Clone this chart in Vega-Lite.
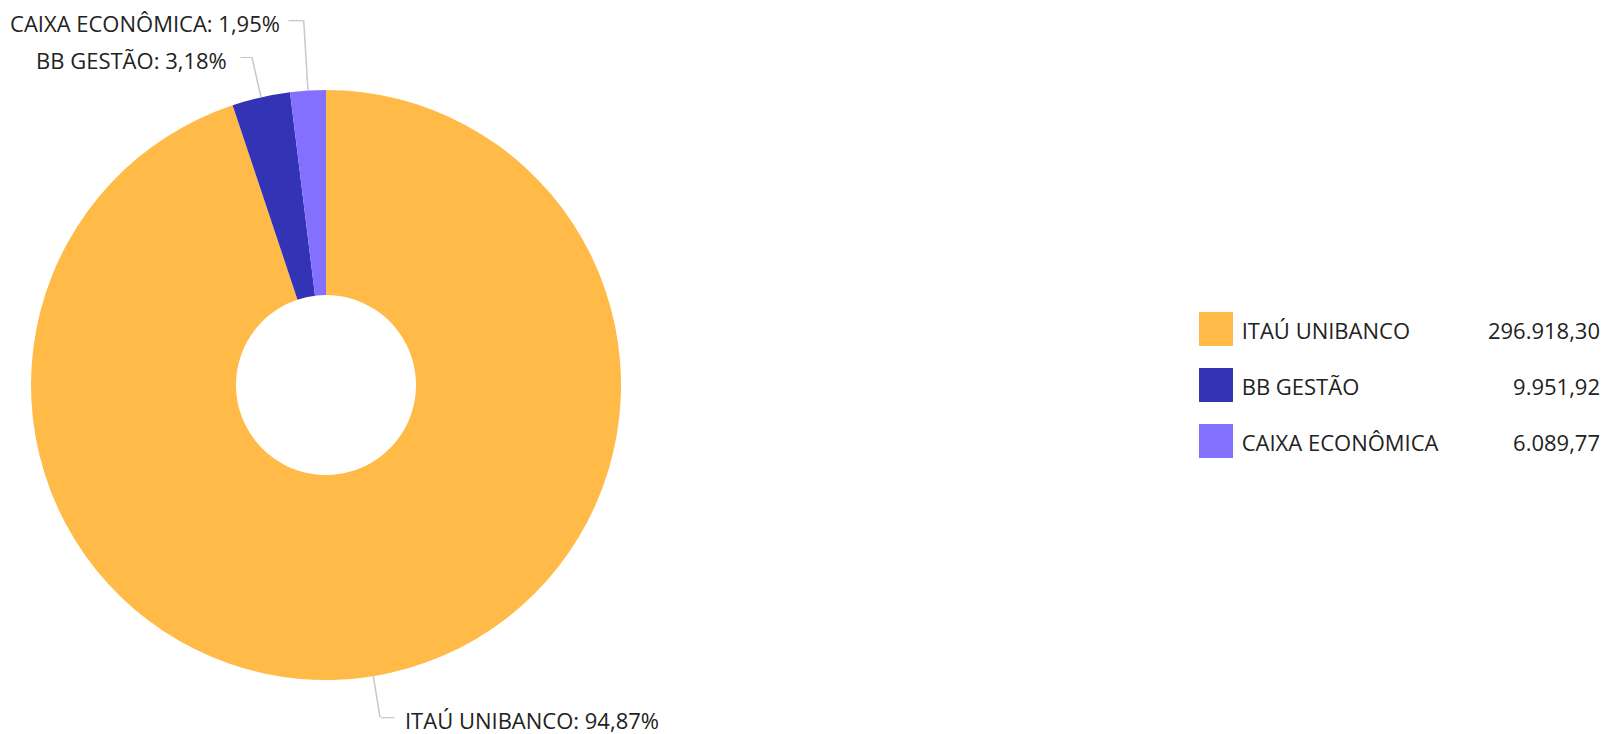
{
  "$schema": "https://vega.github.io/schema/vega-lite/v6.json",
  "background": "white",
  "padding": 0,
  "config": {"view": {"stroke": null}, "text": {"font": "Open Sans"}},
  "data": {
    "values": [
      {"name": "ITAÚ UNIBANCO", "value": 296918.30, "label": "ITAÚ UNIBANCO: 94,87%", "valor": "296.918,30"},
      {"name": "BB GESTÃO", "value": 9951.92, "label": "BB GESTÃO: 3,18%", "valor": "9.951,92"},
      {"name": "CAIXA ECONÔMICA", "value": 6089.77, "label": "CAIXA ECONÔMICA: 1,95%", "valor": "6.089,77"}
    ]
  },
  "bounds": "flush",
  "center": true,
  "spacing": 564,
  "hconcat": [
    {
      "width": 652,
      "height": 770,
      "transform": [{"stack": "value", "groupby": [], "sort": [{"field": "value", "order": "descending"}], "as": ["v0", "v1"]}],
      "resolve": {"scale": {"theta": "independent"}},
      "layer": [
        {
          "layer": [
            {
              "mark": {"type": "arc", "innerRadius": 90, "outerRadius": 295},
              "encoding": {
                "theta": {"field": "v0", "type": "quantitative", "stack": null, "scale": {"zero": true, "nice": false}},
                "theta2": {"field": "v1"},
                "color": {"field": "name", "type": "nominal", "legend": null,
                  "scale": {"domain": ["ITAÚ UNIBANCO", "BB GESTÃO", "CAIXA ECONÔMICA"], "range": ["#FFBA47", "#3333B5", "#8470FF"]}}
              }
            },
            {
              "transform": [{"filter": "datum.name === 'BB GESTÃO'"}],
              "mark": {"type": "arc", "innerRadius": 295, "outerRadius": 336, "padAngle": 3.1416, "filled": false, "stroke": "#c8c8c8", "strokeWidth": 1.5},
              "encoding": {
                "theta": {"field": "v0", "type": "quantitative", "stack": null},
                "theta2": {"field": "v1"}
              }
            },
            {
              "transform": [{"filter": "datum.name === 'CAIXA ECONÔMICA'"}],
              "mark": {"type": "arc", "innerRadius": 295, "outerRadius": 365.5, "padAngle": 3.1416, "filled": false, "stroke": "#c8c8c8", "strokeWidth": 1.5},
              "encoding": {
                "theta": {"field": "v0", "type": "quantitative", "stack": null},
                "theta2": {"field": "v1"}
              }
            },
            {
              "mark": {"type": "text", "radius": 365.5, "align": "right", "baseline": "alphabetic", "dx": -23.7, "dy": 11.5, "fontSize": 22, "font": "Open Sans", "color": "#222222"},
              "encoding": {
                "theta": {"field": "value", "type": "quantitative", "stack": true},
                "detail": {"field": "name", "type": "nominal"},
                "order": {"field": "value", "type": "quantitative", "sort": "descending"},
                "text": {"condition": {"test": "datum.name === 'CAIXA ECONÔMICA'", "field": "label"}, "value": ""}
              }
            },
            {
              "mark": {"type": "text", "radius": 336, "align": "right", "baseline": "alphabetic", "dx": -25.2, "dy": 11.7, "fontSize": 22, "font": "Open Sans", "color": "#222222"},
              "encoding": {
                "theta": {"field": "value", "type": "quantitative", "stack": true},
                "detail": {"field": "name", "type": "nominal"},
                "order": {"field": "value", "type": "quantitative", "sort": "descending"},
                "text": {"condition": {"test": "datum.name === 'BB GESTÃO'", "field": "label"}, "value": ""}
              }
            },
            {
              "mark": {"type": "text", "radius": 336.6, "align": "left", "baseline": "alphabetic", "dx": 25, "dy": 12.1, "fontSize": 22, "font": "Open Sans", "color": "#222222"},
              "encoding": {
                "theta": {"field": "value", "type": "quantitative", "stack": true},
                "detail": {"field": "name", "type": "nominal"},
                "order": {"field": "value", "type": "quantitative", "sort": "descending"},
                "text": {"condition": {"test": "datum.name === 'ITAÚ UNIBANCO'", "field": "label"}, "value": ""}
              }
            },
            {
              "mark": {"type": "text", "radius": 365.5, "align": "right", "baseline": "alphabetic", "dy": 4.85, "fontSize": 16, "font": "DejaVu Sans", "color": "#c8c8c8"},
              "encoding": {
                "theta": {"field": "value", "type": "quantitative", "stack": true},
                "detail": {"field": "name", "type": "nominal"},
                "order": {"field": "value", "type": "quantitative", "sort": "descending"},
                "text": {"condition": {"test": "datum.name === 'CAIXA ECONÔMICA'", "value": "—"}, "value": ""}
              }
            },
            {
              "mark": {"type": "text", "radius": 336, "align": "right", "baseline": "alphabetic", "dy": 3.6, "fontSize": 12, "font": "DejaVu Sans", "color": "#c8c8c8"},
              "encoding": {
                "theta": {"field": "value", "type": "quantitative", "stack": true},
                "detail": {"field": "name", "type": "nominal"},
                "order": {"field": "value", "type": "quantitative", "sort": "descending"},
                "text": {"condition": {"test": "datum.name === 'BB GESTÃO'", "value": "—"}, "value": ""}
              }
            },
            {
              "mark": {"type": "text", "radius": 336.6, "align": "left", "baseline": "alphabetic", "dy": 4.5, "fontSize": 15, "font": "DejaVu Sans", "color": "#c8c8c8"},
              "encoding": {
                "theta": {"field": "value", "type": "quantitative", "stack": true},
                "detail": {"field": "name", "type": "nominal"},
                "order": {"field": "value", "type": "quantitative", "sort": "descending"},
                "text": {"condition": {"test": "datum.name === 'ITAÚ UNIBANCO'", "value": "—"}, "value": ""}
              }
            }
          ]
        },
        {
          "mark": {"type": "arc", "innerRadius": 295, "outerRadius": 336.6, "filled": false, "stroke": "#c8c8c8", "strokeWidth": 1.5},
          "encoding": {
            "theta": {"field": "v1", "type": "quantitative", "stack": null, "scale": {"zero": true, "nice": false, "range": [0, 3.14159265]}},
            "theta2": {"field": "v1"},
            "strokeOpacity": {"condition": {"test": "datum.v0 > 0", "value": 0}, "value": 1}
          }
        }
      ]
    },
    {
      "width": 384,
      "height": 168,
      "encoding": {
        "y": {"field": "name", "type": "nominal", "sort": ["ITAÚ UNIBANCO", "BB GESTÃO", "CAIXA ECONÔMICA"],
          "scale": {"paddingInner": 0, "paddingOuter": 0}, "axis": null}
      },
      "layer": [
        {
          "mark": {"type": "point", "shape": "square", "filled": true, "size": 1156, "opacity": 1},
          "encoding": {
            "x": {"datum": 0, "type": "quantitative", "scale": {"domain": [0, 1]}, "axis": null},
            "color": {"field": "name", "type": "nominal", "legend": null,
              "scale": {"domain": ["ITAÚ UNIBANCO", "BB GESTÃO", "CAIXA ECONÔMICA"], "range": ["#FFBA47", "#3333B5", "#8470FF"]}}
          }
        },
        {
          "mark": {"type": "text", "align": "left", "baseline": "middle", "dx": 25.7, "dy": 3, "fontSize": 22, "font": "Open Sans", "color": "#222222"},
          "encoding": {
            "x": {"datum": 0, "type": "quantitative", "scale": {"domain": [0, 1]}, "axis": null},
            "text": {"field": "name", "type": "nominal"}
          }
        },
        {
          "mark": {"type": "text", "align": "right", "baseline": "middle", "dy": 3, "fontSize": 22, "font": "Open Sans", "color": "#222222"},
          "encoding": {
            "x": {"datum": 1, "type": "quantitative", "scale": {"domain": [0, 1]}, "axis": null},
            "text": {"field": "valor", "type": "nominal"}
          }
        }
      ]
    }
  ]
}
